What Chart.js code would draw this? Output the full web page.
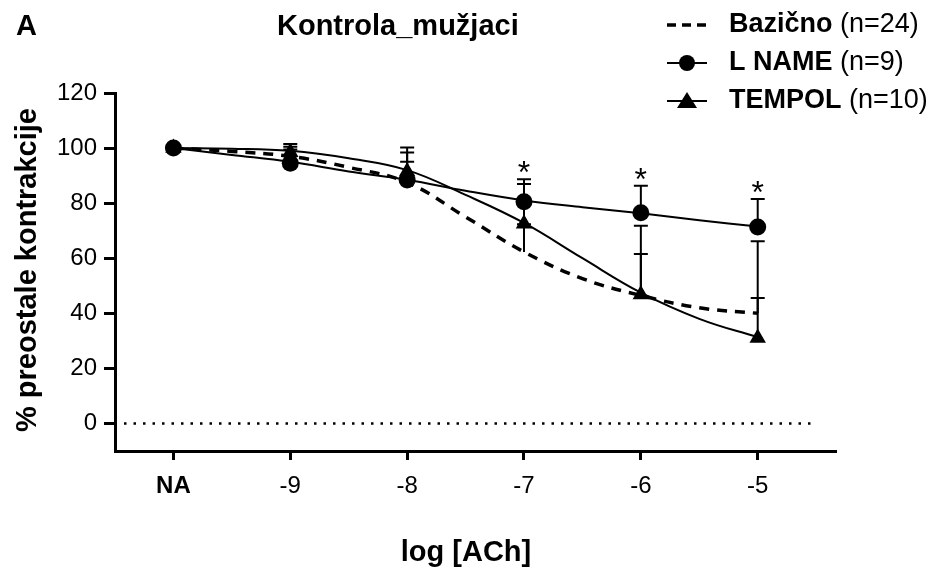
<!DOCTYPE html>
<html>
<head>
<meta charset="utf-8">
<script src="https://cdn.jsdelivr.net/npm/chart.js@4.4.1/dist/chart.umd.min.js"></script>
<style>
  html, body { margin: 0; padding: 0; background: #fff; }
  canvas { display: block; }
</style>
</head>
<body>
<canvas id="chart" width="934" height="573"></canvas>
<script>
const FONT = "'Liberation Sans', Arial, sans-serif";

// dose points (NA plotted at -10)
const doses = [-10, -9, -8, -7, -6, -5];
const doseLabels = ["NA", "-9", "-8", "-7", "-6", "-5"];
const yTicks = [0, 20, 40, 60, 80, 100, 120];

// means and upper error bars
const bazMean = [100, 97, 88, 62.3, 46.5, 40];
const bazErr = [0, 2.5, 7, 10, 15, 5.6];
const lnameMean = [100, 94.5, 88.4, 80.5, 76.5, 71.3];
const lnameErr = [0, 7, 10, 8.2, 9.8, 10.2];
const tempolMean = [100, 98.5, 91.5, 72.5, 46.8, 31];
const tempolErr = [0, 2, 8.7, 14.5, 25, 35.2];
const lnameStars = [false, false, false, true, true, true];

// fitted curves, sampled every half log unit
const curveX = [-10, -9.5, -9, -8.5, -8, -7.5, -7, -6.5, -6, -5.5, -5];
const bazCurve = [100, 98.8, 97, 93, 87.5, 75, 62.3, 52.6, 46.5, 42, 40];
const lnameCurve = [100, 97.5, 95, 91.5, 88.5, 84.5, 81, 78.5, 76.3, 73.8, 71.5];
const tempolCurve = [100, 99.8, 99, 96.3, 92, 83, 72.8, 60, 47.5, 38, 31.3];

const legendNames = ["Bazično", "L NAME", "TEMPOL"];
const legendN = ["(n=24)", "(n=9)", "(n=10)"];

const pts = (xs, ys) => xs.map((x, i) => ({ x: x, y: ys[i] }));

const extras = {
  id: "extras",
  beforeDatasetsDraw(chart) {
    const { ctx, scales: { x, y } } = chart;
    ctx.save();
    // dotted zero line
    ctx.strokeStyle = "#000";
    ctx.lineWidth = 2.5;
    ctx.setLineDash([2.5, 7]);
    ctx.beginPath();
    ctx.moveTo(124, y.getPixelForValue(0));
    ctx.lineTo(812, y.getPixelForValue(0));
    ctx.stroke();
    ctx.setLineDash([]);
    // error bars (upper only)
    ctx.lineWidth = 2;
    [[bazMean, bazErr], [lnameMean, lnameErr], [tempolMean, tempolErr]].forEach(([m, e]) => {
      doses.forEach((d, i) => {
        if (!e[i]) return;
        const px = x.getPixelForValue(d);
        const p0 = y.getPixelForValue(m[i]);
        const p1 = y.getPixelForValue(m[i] + e[i]);
        ctx.beginPath();
        ctx.moveTo(px, p0);
        ctx.lineTo(px, p1);
        ctx.moveTo(px - 7, p1);
        ctx.lineTo(px + 7, p1);
        ctx.stroke();
      });
    });
    ctx.restore();
  },
  afterDraw(chart) {
    const { ctx, scales: { x, y } } = chart;
    ctx.save();
    ctx.fillStyle = "#000";
    // significance stars
    ctx.font = "32px " + FONT;
    ctx.textAlign = "center";
    ctx.textBaseline = "alphabetic";
    doses.forEach((d, i) => {
      if (!lnameStars[i]) return;
      ctx.fillText("*", x.getPixelForValue(d), y.getPixelForValue(lnameMean[i] + lnameErr[i]) + 4);
    });
    // panel letter and title
    ctx.textBaseline = "middle";
    ctx.textAlign = "left";
    ctx.font = "bold 29px " + FONT;
    ctx.fillText("A", 16, 27);
    ctx.fillText("Kontrola_mužjaci", 277, 27);
    // axis titles
    ctx.textAlign = "center";
    ctx.fillText("log [ACh]", 466, 553);
    ctx.translate(28, 270);
    ctx.rotate(-Math.PI / 2);
    ctx.fillText("% preostale kontrakcije", 0, 0);
    ctx.restore();

    // legend
    ctx.save();
    ctx.strokeStyle = "#000";
    ctx.fillStyle = "#000";
    const rows = [25, 63, 101];
    rows.forEach((ry, i) => {
      ctx.beginPath();
      if (i === 0) {
        ctx.lineWidth = 3.5;
        ctx.setLineDash([9, 6]);
      } else {
        ctx.lineWidth = 2;
        ctx.setLineDash([]);
      }
      ctx.moveTo(667, ry);
      ctx.lineTo(707, ry);
      ctx.stroke();
      ctx.setLineDash([]);
      if (i === 1) {
        ctx.beginPath();
        ctx.arc(687, ry, 8, 0, Math.PI * 2);
        ctx.fill();
      } else if (i === 2) {
        ctx.beginPath();
        ctx.moveTo(687, ry - 9);
        ctx.lineTo(697, ry + 7);
        ctx.lineTo(677, ry + 7);
        ctx.closePath();
        ctx.fill();
      }
      ctx.textBaseline = "middle";
      ctx.textAlign = "left";
      ctx.font = "bold 27px " + FONT;
      ctx.fillText(legendNames[i], 729, ry);
      const w = ctx.measureText(legendNames[i] + " ").width;
      ctx.font = "27px " + FONT;
      ctx.fillText(legendN[i], 729 + w, ry);
    });
    ctx.restore();
  }
};

new Chart(document.getElementById("chart").getContext("2d"), {
  type: "line",
  data: {
    datasets: [
      { data: pts(curveX, bazCurve), borderColor: "#000", borderWidth: 3.5, borderDash: [10, 8],
        pointRadius: 0, tension: 0.4, fill: false },
      { data: pts(curveX, lnameCurve), borderColor: "#000", borderWidth: 2,
        pointRadius: 0, tension: 0.4, fill: false },
      { data: pts(curveX, tempolCurve), borderColor: "#000", borderWidth: 2,
        pointRadius: 0, tension: 0.4, fill: false },
      { data: pts(doses, lnameMean), showLine: false, pointStyle: "circle", pointRadius: 8.5,
        backgroundColor: "#000", borderColor: "#000", borderWidth: 0 },
      { data: pts(doses, tempolMean), showLine: false, pointStyle: "triangle", pointRadius: 9.5,
        backgroundColor: "#000", borderColor: "#000", borderWidth: 0 }
    ]
  },
  options: {
    responsive: false,
    animation: false,
    layout: { padding: { top: 93, right: 98, left: 0, bottom: 0 } },
    plugins: { legend: { display: false }, tooltip: { enabled: false } },
    scales: {
      x: {
        type: "linear",
        min: -10.5,
        max: -4.33,
        afterBuildTicks: (s) => { s.ticks = doses.map((v) => ({ value: v })); },
        afterFit: (s) => { s.height = 122; },
        ticks: {
          color: "#000",
          padding: 12,
          font: (c) => ({ family: FONT, size: 24, weight: c.tick && c.tick.value === -10 ? "bold" : "normal" }),
          callback: (v) => doseLabels[doses.indexOf(v)]
        },
        grid: { drawOnChartArea: false, drawTicks: true, tickLength: 9, tickWidth: 3, tickColor: "#000" },
        border: { color: "#000", width: 3 }
      },
      y: {
        min: -10,
        max: 120,
        afterBuildTicks: (s) => { s.ticks = yTicks.map((v) => ({ value: v })); },
        afterFit: (s) => { s.width = 115; },
        ticks: { color: "#000", padding: 7, font: { family: FONT, size: 24 } },
        grid: { drawOnChartArea: false, drawTicks: true, tickLength: 11, tickWidth: 3, tickColor: "#000" },
        border: { color: "#000", width: 3 }
      }
    }
  },
  plugins: [extras]
});
</script>
</body>
</html>
